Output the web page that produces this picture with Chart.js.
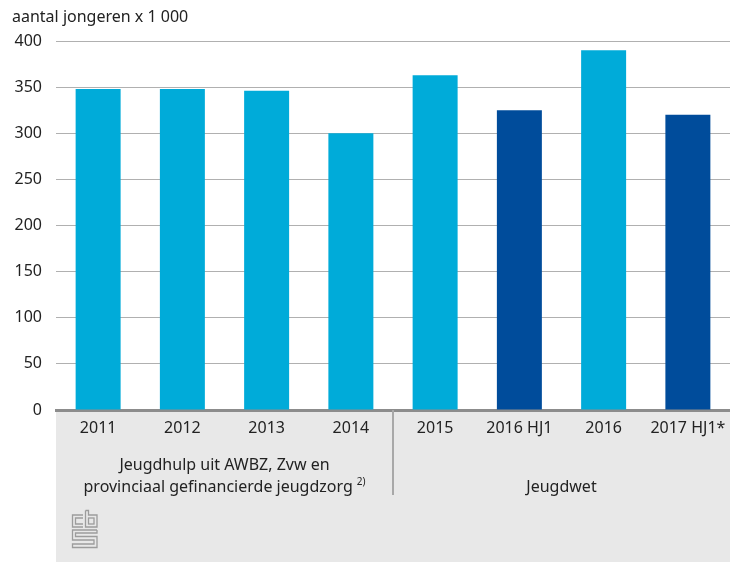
<!DOCTYPE html>
<html><head><meta charset="utf-8">
<script src="https://cdn.jsdelivr.net/npm/chart.js@4/dist/chart.umd.min.js"></script>
<style>html,body{margin:0;padding:0;background:#fff}#wrap{width:730px;height:562px;position:relative}</style>
</head><body><div id="wrap"><canvas id="c" width="730" height="562"></canvas></div>
<script>
const categories = ['2011','2012','2013','2014','2015','2016 HJ1','2016','2017 HJ1*'];
const values = [348, 348, 346, 300, 363, 325, 390, 320];
const halfYear = [false, false, false, false, false, true, false, true];
const yTicks = [0, 50, 100, 150, 200, 250, 300, 350, 400];
const yTitle = 'aantal jongeren x 1 000';
const groupLeft = ['Jeugdhulp uit AWBZ, Zvw en', 'provinciaal gefinancierde jeugdzorg'];
const groupLeftNote = '2)';
const groupRight = 'Jeugdwet';

const FONT = '"Noto Sans", "Open Sans", sans-serif';
const LIGHT = '#00abd9', DARK = '#004c9b';

const overlay = {
  id: 'overlay',
  beforeDraw(chart) {
    const {ctx, chartArea: a} = chart;
    ctx.save();
    ctx.fillStyle = '#e8e8e8';
    ctx.fillRect(a.left, a.bottom, chart.width - a.left, chart.height - a.bottom);
    ctx.restore();
  },
  afterDraw(chart) {
    const {ctx, chartArea: a} = chart;
    const xs = chart.scales.x;
    ctx.save();
    ctx.fillStyle = '#222';
    ctx.font = '16px ' + FONT;
    ctx.textBaseline = 'middle';
    ctx.textAlign = 'left';
    ctx.fillText(yTitle, 12, 17);
    const divX = (xs.getPixelForValue(3) + xs.getPixelForValue(4)) / 2;
    ctx.strokeStyle = '#a8a8a8';
    ctx.lineWidth = 2;
    ctx.beginPath();
    ctx.moveTo(divX, a.bottom);
    ctx.lineTo(divX, 495);
    ctx.stroke();
    ctx.fillStyle = '#222';
    ctx.font = '16px ' + FONT;
    ctx.textAlign = 'center';
    const lx = (a.left + divX) / 2;
    ctx.fillText(groupLeft[0], lx, 465);
    const w2 = ctx.measureText(groupLeft[1]).width;
    ctx.font = '10px ' + FONT;
    const wn = ctx.measureText(groupLeftNote).width;
    ctx.font = '16px ' + FONT;
    const total = w2 + 4 + wn;
    ctx.textAlign = 'left';
    ctx.fillText(groupLeft[1], lx - total / 2, 487);
    ctx.font = '10px ' + FONT;
    ctx.fillText(groupLeftNote, lx - total / 2 + w2 + 4, 482);
    ctx.font = '16px ' + FONT;
    ctx.textAlign = 'center';
    ctx.fillText(groupRight, (divX + chart.width) / 2, 487);
    // CBS logo (approximation)
    ctx.strokeStyle = '#9c9c9c';
    ctx.lineWidth = 1.3;
    const ox = 72, oy = 510;
    function path(pts) { ctx.beginPath(); ctx.moveTo(ox + pts[0][0], oy + pts[0][1]); for (let i = 1; i < pts.length; i++) ctx.lineTo(ox + pts[i][0], oy + pts[i][1]); ctx.stroke(); }
    path([[11,5],[0.5,5],[0.5,17],[11,17]]);
    path([[11,8],[3.5,8],[3.5,14],[11,14]]);
    path([[13.5,0.5],[13.5,17],[25,17],[25,5],[16.5,5],[16.5,0.5],[13.5,0.5]]);
    ctx.strokeRect(ox + 16.5, oy + 8, 5.5, 6);
    path([[25,20],[0.5,20],[0.5,30],[22,30],[22,34],[0.5,34],[0.5,37.5],[25,37.5],[25,26.5],[3.5,26.5],[3.5,23],[25,23],[25,20]]);
    ctx.restore();
  }
};

new Chart(document.getElementById('c'), {
  type: 'bar',
  data: {
    labels: categories,
    datasets: [{
      data: values,
      backgroundColor: halfYear.map(h => h ? DARK : LIGHT),
      barPercentage: 0.534,
      categoryPercentage: 1.0,
      borderWidth: 0
    }]
  },
  options: {
    responsive: false,
    animation: false,
    events: [],
    devicePixelRatio: 1,
    layout: { padding: { top: 41, right: 0, left: 0, bottom: 0 } },
    plugins: { legend: { display: false }, tooltip: { enabled: false }, title: { display: false } },
    scales: {
      x: {
        grid: { display: false, drawTicks: false },
        border: { display: true, color: '#8c8c8c', width: 3 },
        ticks: { color: '#222', font: { family: FONT, size: 16 }, padding: 9, maxRotation: 0, autoSkip: false },
        afterFit(s) { s.height = 152; s.paddingLeft = 0; s.paddingRight = 0; }
      },
      y: {
        min: 0, max: 400,
        afterBuildTicks(s) { s.ticks = yTicks.map(v => ({ value: v })); },
        grid: { color: ctx => ctx.tick && ctx.tick.value === 0 ? 'rgba(0,0,0,0)' : '#b0b0b0', lineWidth: 1, drawTicks: false },
        border: { display: false },
        ticks: { color: '#222', font: { family: FONT, size: 16 }, padding: 14 },
        afterFit(s) { s.width = 56; }
      }
    }
  },
  plugins: [overlay]
});
</script>
</body></html>
